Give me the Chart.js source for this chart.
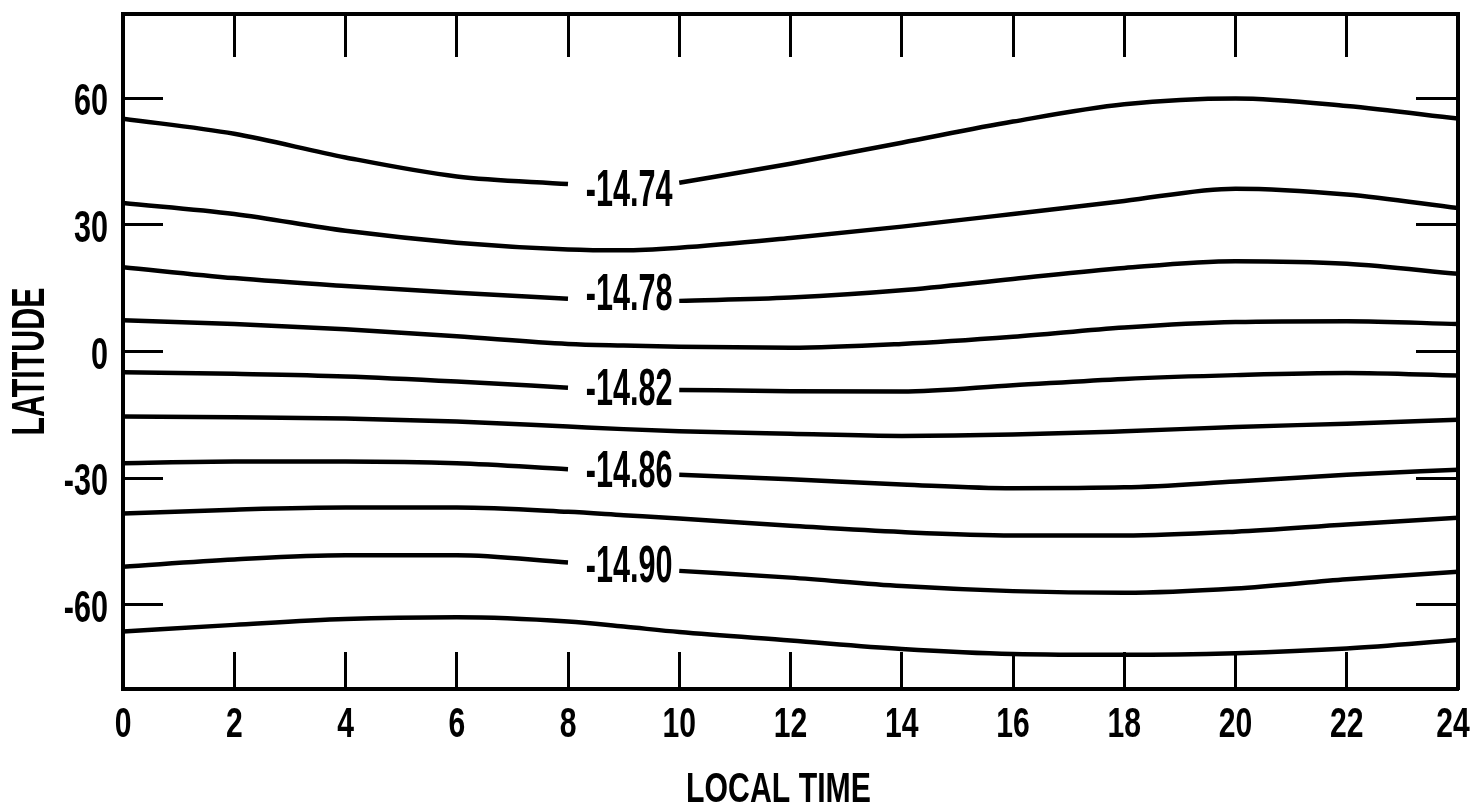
<!DOCTYPE html>
<html>
<head>
<meta charset="utf-8">
<script src="https://cdn.jsdelivr.net/npm/chart.js@4"></script>
<style>
  html, body { margin: 0; padding: 0; background: #fff; }
  #wrap { width: 1475px; height: 809px; }
</style>
</head>
<body>
<div id="wrap"><canvas id="chart"></canvas></div>
<script>
// local time samples (hours)
const hours = [0, 2, 4, 6, 8, 9, 10, 12, 14, 16, 18, 20, 22, 24];

// contour lines, top to bottom (latitude in degrees); null = label gap
const line1 = [55.2, 51.6, 46.0, 41.5, 39.7, null, 40.0, 44.5, 49.5, 54.5, 58.6, 60.0, 58.2, 55.2];
const line2 = [35.2, 32.6, 28.6, 25.8, 24.2, 24.0, 24.6, 26.9, 29.6, 32.6, 35.7, 38.6, 37.2, 34.0];
const line3 = [20.0, 17.4, 15.5, 13.9, 12.5, null, 12.0, 12.8, 14.5, 17.2, 19.8, 21.4, 20.8, 18.4];
const line4 = [7.4, 6.5, 5.3, 3.6, 1.8, 1.4, 1.1, 0.9, 1.8, 3.5, 5.7, 7.0, 7.2, 6.5];
const line5 = [-4.9, -5.3, -5.9, -7.1, -8.6, null, -9.1, -9.4, -9.5, -8.0, -6.5, -5.6, -5.1, -5.7];
const line6 = [-15.4, -15.6, -15.9, -16.6, -17.8, -18.4, -18.9, -19.5, -20.0, -19.7, -18.9, -17.9, -17.1, -16.2];
const line7 = [-26.5, -26.1, -26.1, -26.5, -27.9, null, -29.2, -30.3, -31.5, -32.4, -32.2, -30.8, -29.2, -28.0];
const line8 = [-38.4, -37.5, -37.0, -37.0, -38.0, -38.8, -39.6, -41.3, -42.8, -43.6, -43.6, -42.7, -41.0, -39.4];
const line9 = [-51.0, -49.3, -48.3, -48.3, -50.0, null, -52.0, -53.6, -55.6, -56.8, -57.2, -56.2, -54.0, -52.2];
const line10 = [-66.4, -64.8, -63.4, -63.0, -64.0, -65.2, -66.5, -68.5, -70.5, -71.7, -71.9, -71.5, -70.4, -68.4];

// contour labels
const labelText = ['-14.74', '-14.78', '-14.82', '-14.86', '-14.90'];
const labelLat = [38.8, 14.1, -8.4, -27.9, -50.4];
const labelHour = 9.1;

// axes
const xTickLabels = [0, 2, 4, 6, 8, 10, 12, 14, 16, 18, 20, 22, 24];
const xTickMarks = [2, 4, 6, 8, 10, 12, 14, 16, 18, 20, 22];
const yTicks = [60, 30, 0, -30, -60];

const lines = [line1, line2, line3, line4, line5, line6, line7, line8, line9, line10];

const FONT = "'Liberation Sans', Arial, sans-serif";

function narrowText(ctx, text, px, py, size, sx, rot, align) {
  ctx.save();
  ctx.translate(px, py);
  ctx.rotate(rot || 0);
  ctx.scale(sx, 1);
  ctx.font = 'bold ' + size + 'px ' + FONT;
  ctx.fillStyle = '#000';
  ctx.textAlign = align || 'center';
  ctx.textBaseline = 'alphabetic';
  ctx.fillText(text, 0, size * 0.716 / 2);
  ctx.restore();
}

const textLayer = {
  id: 'textLayer',
  afterDraw(chart) {
    const { ctx, chartArea: a } = chart;
    const xs = chart.scales.x, ys = chart.scales.y;
    xTickLabels.forEach(v => {
      let px = xs.getPixelForValue(v);
      px = Math.min(px, chart.width - 22);
      narrowText(ctx, String(v), px, a.bottom + 33, 43, 0.7);
    });
    yTicks.forEach(v => {
      narrowText(ctx, String(v), a.left - 15, ys.getPixelForValue(v) + 1, 45, 0.68, 0, 'right');
    });
    labelText.forEach((t, i) => {
      narrowText(ctx, t, xs.getPixelForValue(labelHour), ys.getPixelForValue(labelLat[i]), 51, 0.6);
    });
    narrowText(ctx, 'LOCAL TIME', (a.left + a.right) / 2 - 12, a.bottom + 98, 42, 0.72);
    narrowText(ctx, 'LATITUDE', 28, (a.top + a.bottom) / 2 + 10, 46, 0.66, -Math.PI / 2);
  }
};

function edgeScale(axis, position, min, max, marks, len, size) {
  return {
    type: 'linear', axis: axis, position: position, min: min, max: max,
    afterBuildTicks: s => { s.ticks = marks.map(v => ({ value: v })); },
    afterFit: s => { if (axis === 'x') s.height = size; else s.width = size; },
    ticks: { display: false },
    grid: { display: true, drawOnChartArea: false, drawTicks: true, tickLength: len, tickWidth: 3, tickColor: '#000' },
    border: { display: true, width: 4, color: '#000' }
  };
}

new Chart(document.getElementById('chart'), {
  type: 'line',
  data: {
    datasets: lines.map(d => ({
      data: hours.map((h, i) => ({ x: h, y: d[i] })),
      borderColor: '#000',
      borderWidth: 4.5,
      pointRadius: 0,
      cubicInterpolationMode: 'monotone',
      spanGaps: false,
      fill: false
    }))
  },
  options: {
    responsive: true,
    maintainAspectRatio: false,
    animation: false,
    layout: { padding: 0 },
    plugins: { legend: { display: false }, tooltip: { enabled: false } },
    scales: {
      x: edgeScale('x', 'bottom', 0, 24, xTickMarks, -37, 120),
      xTop: edgeScale('x', 'top', 0, 24, xTickMarks, -43, 14),
      y: edgeScale('y', 'left', -80, 80, yTicks, -40, 123),
      yRight: edgeScale('y', 'right', -80, 80, yTicks, -42, 17)
    }
  },
  plugins: [textLayer]
});
</script>
</body>
</html>
